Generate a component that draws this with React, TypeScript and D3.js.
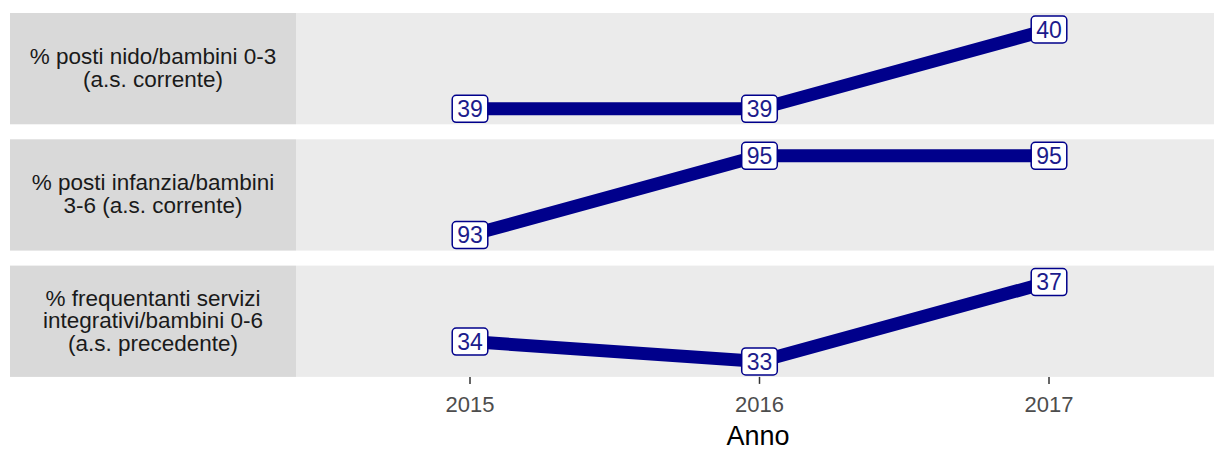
import React, { useEffect, useRef } from 'react'
import * as d3 from 'd3'

const years = [2015, 2016, 2017]

const panelLabels = [
  ['% posti nido/bambini 0-3', '(a.s. corrente)'],
  ['% posti infanzia/bambini', '3-6 (a.s. corrente)'],
  ['% frequentanti servizi', 'integrativi/bambini 0-6', '(a.s. precedente)'],
]

const nidoValues = [39, 39, 40]
const infanziaValues = [93, 95, 95]
const integrativiValues = [34, 33, 37]

const seriesValues = [nidoValues, infanziaValues, integrativiValues]

const xTickLabels = ['2015', '2016', '2017']

const App = () => {
  const canvasRef = useRef<HTMLDivElement>(null)

  useEffect(() => {
    document.body.style.margin = '0'
    draw()
  }, [])

  const draw = () => {
    const width = 1214
    const height = 451
    const stripLeft = 10
    const panelLeft = 296
    const panelRight = 1214
    const panelTop = 13
    const panelH = 111.3
    const gap = 15
    const lineColor = '#00008B'
    const font = 'Liberation Sans, Arial, sans-serif'

    d3.select(canvasRef.current).selectAll('*').remove()
    const svg = d3.select(canvasRef.current).append('svg')
      .attr('width', width)
      .attr('height', height)
      .style('display', 'block')
      .attr('font-family', font)

    svg.append('rect')
      .attr('width', width)
      .attr('height', height)
      .attr('fill', '#fff')

    const x = d3.scaleLinear()
      .domain([2015, 2017])
      .range([470, 1049])

    seriesValues.forEach((vals, i) => {
      const top = panelTop + i * (panelH + gap)
      const bottom = top + panelH
      const [lo, hi] = d3.extent(vals) as [number, number]
      const y = d3.scaleLinear()
        .domain([lo, hi])
        .range([bottom - 15.5, top + 16.5])

      const g = svg.append('g')

      // strip on the left
      g.append('rect')
        .attr('x', stripLeft)
        .attr('y', top)
        .attr('width', panelLeft - stripLeft)
        .attr('height', panelH)
        .attr('fill', '#D9D9D9')

      const lines = panelLabels[i]
      const lh = 22.5
      const cy = top + panelH / 2
      g.append('text')
        .attr('text-anchor', 'middle')
        .attr('font-size', 22.5)
        .attr('fill', '#1A1A1A')
        .selectAll('tspan')
        .data(lines)
        .enter().append('tspan')
        .attr('x', (stripLeft + panelLeft) / 2)
        .attr('y', (d, j) => cy + (j - (lines.length - 1) / 2) * lh)
        .attr('dy', '0.3em')
        .text(d => d)

      // panel
      g.append('rect')
        .attr('x', panelLeft)
        .attr('y', top)
        .attr('width', panelRight - panelLeft)
        .attr('height', panelH)
        .attr('fill', '#EBEBEB')

      const line = d3.line<number>()
        .x((d, j) => x(years[j]))
        .y(d => y(d))

      g.append('path')
        .datum(vals)
        .attr('d', line)
        .attr('fill', 'none')
        .attr('stroke', lineColor)
        .attr('stroke-width', 13)

      const labels = g.selectAll('g.lbl')
        .data(vals)
        .enter().append('g')
        .attr('class', 'lbl')
        .attr('transform', (d, j) => `translate(${x(years[j])},${y(d)})`)

      labels.append('rect')
        .attr('x', d => -(String(d).length * 0.556 * 23 + 10) / 2)
        .attr('y', -13.5)
        .attr('width', d => String(d).length * 0.556 * 23 + 10)
        .attr('height', 27)
        .attr('rx', 4)
        .attr('fill', '#fff')
        .attr('stroke', lineColor)
        .attr('stroke-width', 1.5)

      labels.append('text')
        .attr('text-anchor', 'middle')
        .attr('dy', '0.36em')
        .attr('font-size', 23)
        .attr('fill', '#1C1C8C')
        .text(d => String(d))
    })

    // x axis
    const axisTop = panelTop + 2 * (panelH + gap) + panelH
    const axis = svg.append('g')
    axis.selectAll('line')
      .data(years)
      .enter().append('line')
      .attr('x1', d => x(d))
      .attr('x2', d => x(d))
      .attr('y1', axisTop)
      .attr('y2', axisTop + 7)
      .attr('stroke', '#333333')
      .attr('stroke-width', 1.5)

    axis.selectAll('text')
      .data(years)
      .enter().append('text')
      .attr('x', d => x(d))
      .attr('y', 412)
      .attr('text-anchor', 'middle')
      .attr('font-size', 22)
      .attr('fill', '#4D4D4D')
      .text((d, j) => xTickLabels[j])

    svg.append('text')
      .attr('x', (panelLeft + panelRight) / 2 + 3)
      .attr('y', 445)
      .attr('text-anchor', 'middle')
      .attr('font-size', 27)
      .attr('fill', '#000')
      .text('Anno')
  }

  return (
    <div ref={canvasRef}></div>
  )
}

export default App
